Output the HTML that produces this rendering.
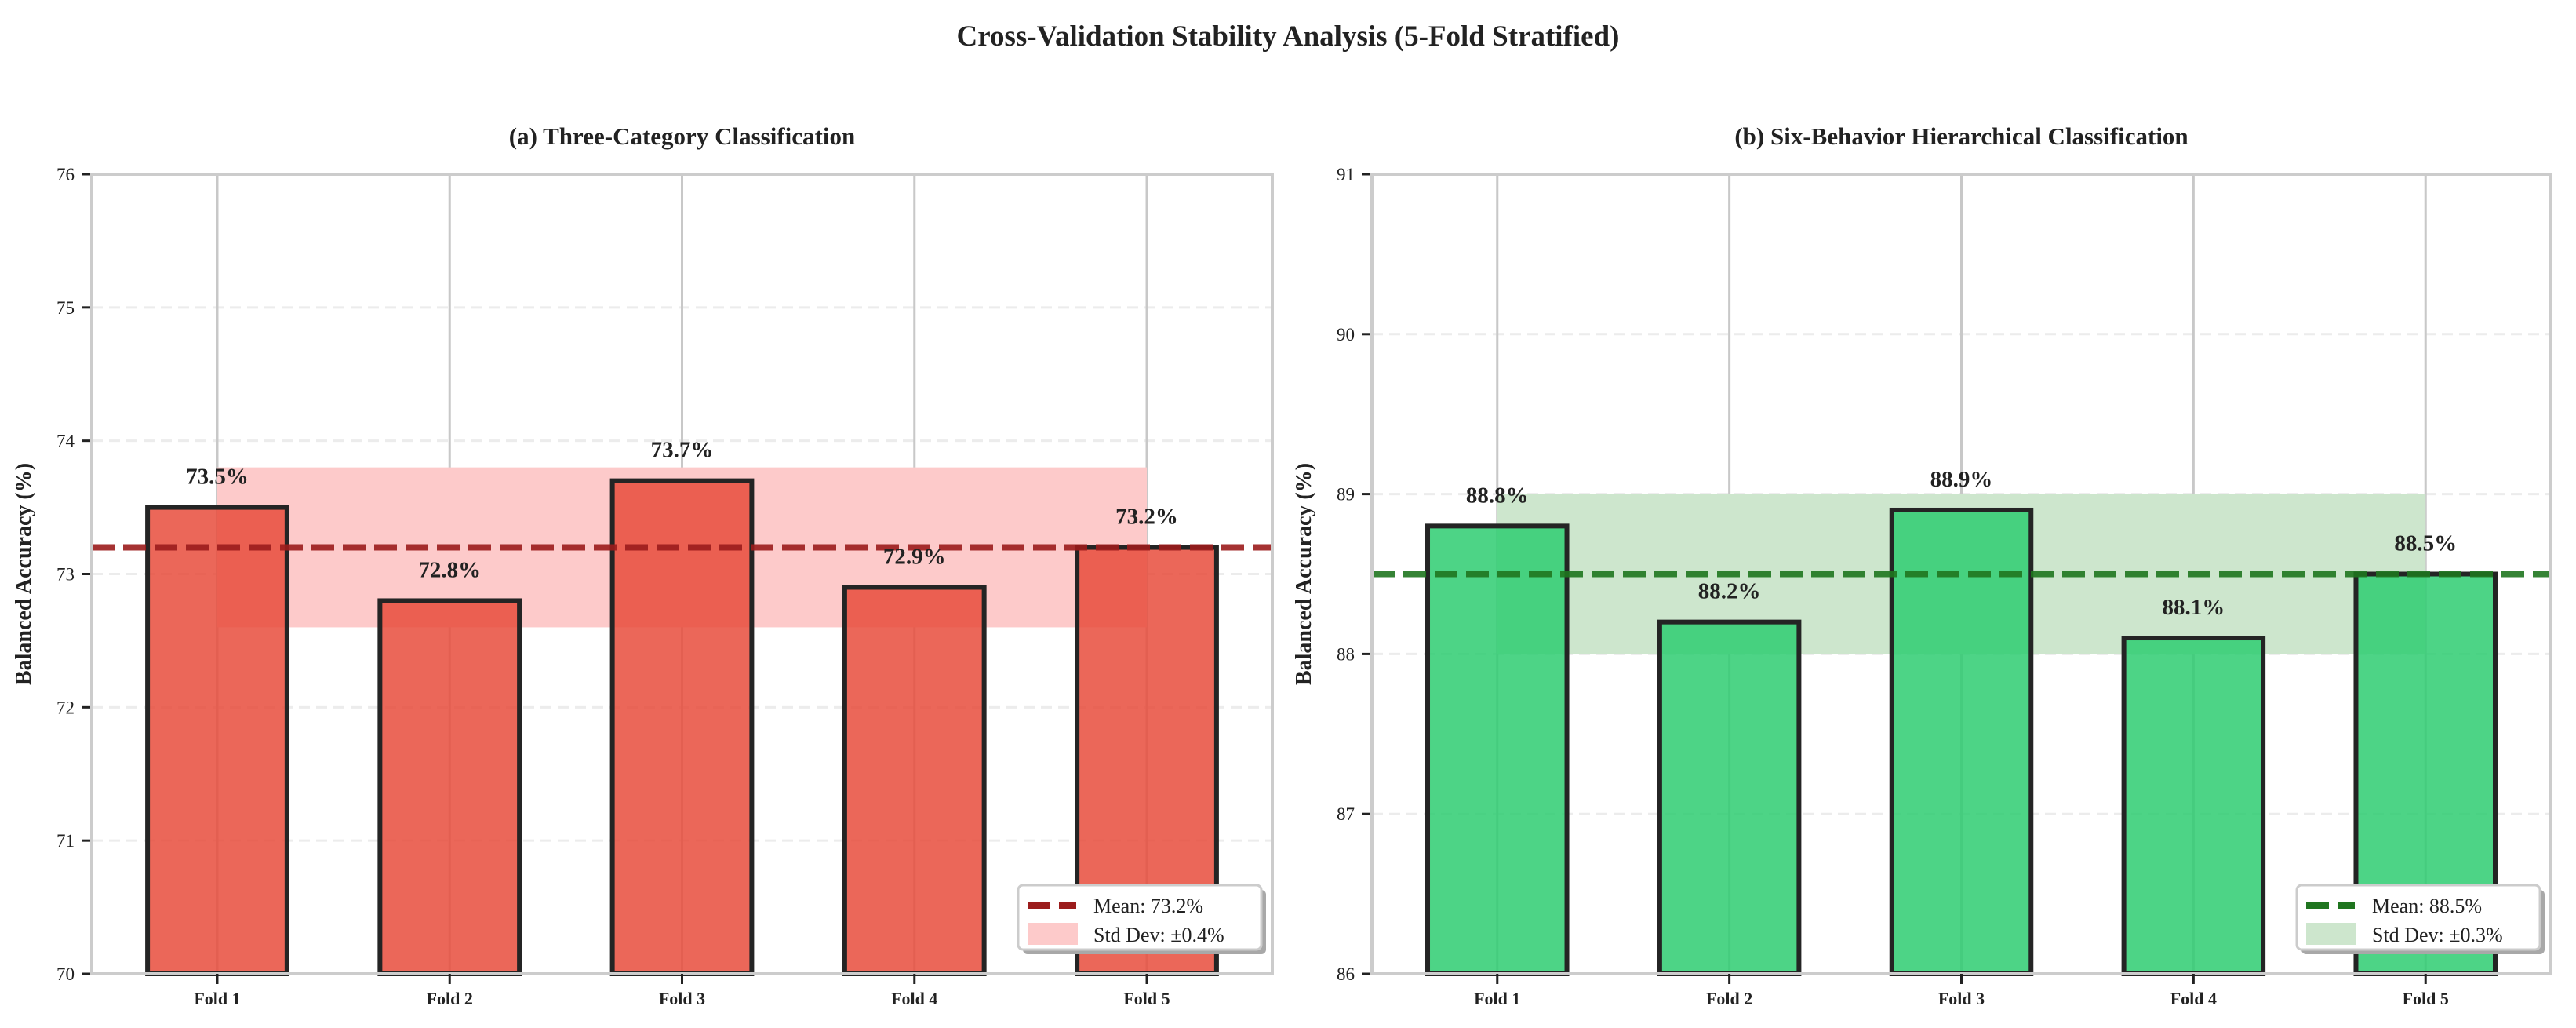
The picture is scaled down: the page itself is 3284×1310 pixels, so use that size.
<!DOCTYPE html>
<html><head><meta charset="utf-8"><style>
html,body{margin:0;padding:0;background:#fff}
svg{display:block}
text{font-family:"Liberation Serif",serif;fill:#222}
</style></head><body>
<svg id="chart" width="3284" height="1310" viewBox="0 0 3284 1310" xmlns="http://www.w3.org/2000/svg">
<text x="1642" y="58" text-anchor="middle" font-size="37" font-weight="bold">Cross-Validation Stability Analysis (5-Fold Stratified)</text>
</svg>
<script>
const categories = ["Fold 1","Fold 2","Fold 3","Fold 4","Fold 5"];
const valuesA = [73.5, 72.8, 73.7, 72.9, 73.2];
const valuesB = [88.8, 88.2, 88.9, 88.1, 88.5];
const meanA = 73.2, bandA = [72.6, 73.8], stdLabelA = "±0.4%";
const meanB = 88.5, bandB = [88.0, 89.0], stdLabelB = "±0.3%";
const ticksA = [70,71,72,73,74,75,76];
const ticksB = [86,87,88,89,90,91];

const NS = "http://www.w3.org/2000/svg";
const svg = document.getElementById("chart");
function mk(tag, attrs, parent){
  const e = document.createElementNS(NS, tag);
  for (const k in attrs) e.setAttribute(k, attrs[k]);
  (parent||svg).appendChild(e);
  return e;
}
function panel(cfg){
  const g = mk("g", {});
  
  
  const L=cfg.x0, R=cfg.x1, T=222, B=1241;
  const ymin=cfg.ticks[0], ymax=cfg.ticks[cfg.ticks.length-1];
  const y = v => B - (v - ymin) / (ymax - ymin) * (B - T);
  const x = i => L + (i + 0.54) / 5.08 * (R - L);
  const bw = 0.6 / 5.08 * (R - L);
  cfg.ticks.forEach(t => {
    const l = mk("line",{x1:L,x2:R,y1:y(t),y2:y(t),stroke:"#ececec","stroke-width":3,"stroke-dasharray":"14 8"},g);
    
    
    const tk = mk("line",{x1:L-13,x2:L,y1:y(t),y2:y(t),stroke:"#222","stroke-width":3},g);
    
    
    const tl = mk("text",{x:L-22,y:y(t)+8,"text-anchor":"end","font-size":23},g);
    tl.textContent = t;
    
    
  });
  categories.forEach((c,i) => {
    const l = mk("line",{x1:x(i),x2:x(i),y1:T,y2:B,stroke:"#c8c8c8","stroke-width":3},g);
    
    
  });
  const band = mk("rect",{x:x(0),y:y(cfg.band[1]),width:x(4)-x(0),height:y(cfg.band[0])-y(cfg.band[1]),fill:cfg.bandColor},g);
  
  
  cfg.values.forEach((v,i) => {
    const r = mk("rect",{x:x(i)-bw/2,y:y(v),width:bw,height:B-y(v),fill:cfg.barColor,"fill-opacity":0.85,stroke:"#242424","stroke-width":6},g);
    
    
  });
  const ml = mk("line",{x1:L,x2:R,y1:y(cfg.mean),y2:y(cfg.mean),stroke:cfg.meanColor,"stroke-width":8,"stroke-dasharray":"29 11","stroke-opacity":0.9},g);
  
  
  cfg.values.forEach((v,i) => {
    const t = mk("text",{x:x(i),y:y(v)-30,"text-anchor":"middle","font-size":29,"font-weight":"bold"},g);
    t.textContent = v.toFixed(1) + "%";
    
    
  });
  const sp = mk("rect",{x:L,y:T,width:R-L,height:B-T,fill:"none",stroke:"#cccccc","stroke-width":4},g);
  
  
  categories.forEach((c,i) => {
    const tk = mk("line",{x1:x(i),x2:x(i),y1:B,y2:B+13,stroke:"#222","stroke-width":3},g);
    
    
    const t = mk("text",{x:x(i),y:B+39,"text-anchor":"middle","font-size":22,"font-weight":"bold"},g);
    t.textContent = c;
    
    
  });
  const st = mk("text",{x:(L+R)/2,y:184,"text-anchor":"middle","font-size":31,"font-weight":"bold"},g);
  st.textContent = cfg.title;
  
  
  const yl = mk("text",{x:0,y:0,"text-anchor":"middle","font-size":28,"font-weight":"bold",transform:`translate(${L-78},${(T+B)/2}) rotate(-90)`},g);
  yl.textContent = "Balanced Accuracy (%)";
  
  
  const lg = mk("g",{},g);
  
  
  const lx = R - 324, ly = 1128, lw = 310, lh = 82;
  mk("rect",{x:lx+6,y:ly+6,width:lw,height:lh,rx:6,fill:"#a8a8a8"},lg);
  mk("rect",{x:lx,y:ly,width:lw,height:lh,rx:6,fill:"#fff",stroke:"#cccccc","stroke-width":3},lg);
  const e1 = mk("line",{x1:lx+12,x2:lx+74,y1:ly+26,y2:ly+26,stroke:cfg.meanColor,"stroke-width":8,"stroke-dasharray":"29 11"},lg);
  
  
  const t1 = mk("text",{x:lx+96,y:ly+35,"font-size":26},lg);
  t1.textContent = "Mean: " + cfg.mean.toFixed(1) + "%";
  
  
  const e2 = mk("rect",{x:lx+12,y:ly+48,width:64,height:28,fill:cfg.bandColor},lg);
  
  
  const t2 = mk("text",{x:lx+96,y:ly+72,"font-size":26},lg);
  t2.textContent = "Std Dev: " + cfg.stdLabel;
  
  
}
panel({name:"panel-three-category",x0:117,x1:1622,ticks:ticksA,values:valuesA,mean:meanA,band:bandA,stdLabel:stdLabelA,
  barColor:"#e74c3c",bandColor:"#fdcaca",meanColor:"#9b1c1c",title:"(a) Three-Category Classification"});
panel({name:"panel-six-behavior",x0:1749,x1:3252,ticks:ticksB,values:valuesB,mean:meanB,band:bandB,stdLabel:stdLabelB,
  barColor:"#2ecc71",bandColor:"#cde6cd",meanColor:"#1f751f",title:"(b) Six-Behavior Hierarchical Classification"});
</script>
</body></html>
